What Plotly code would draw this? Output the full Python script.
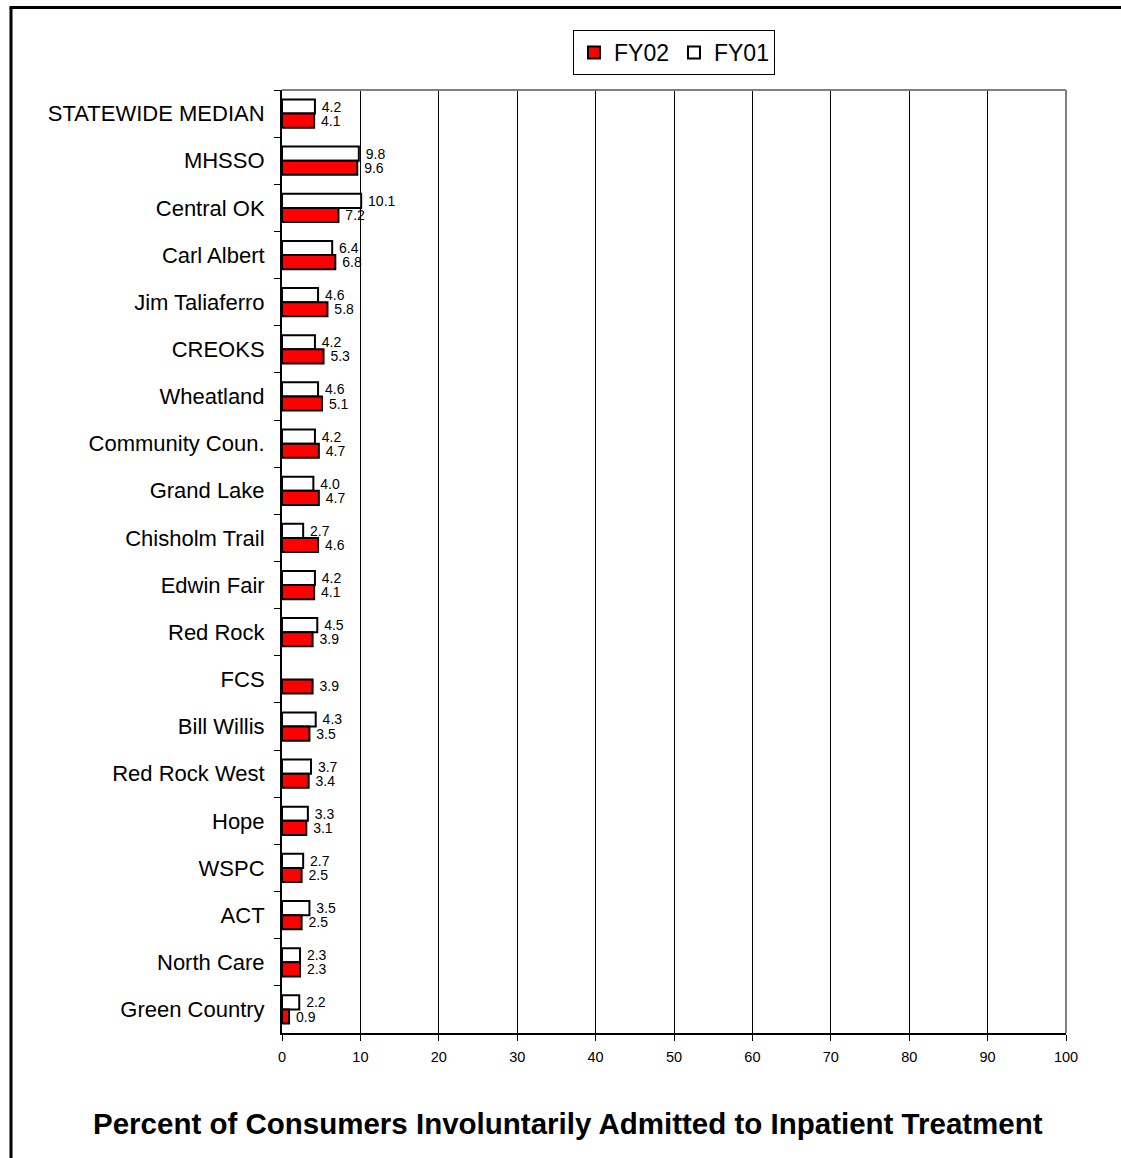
import plotly.graph_objects as go

categories = ["STATEWIDE MEDIAN", "MHSSO", "Central OK", "Carl Albert", "Jim Taliaferro",
              "CREOKS", "Wheatland", "Community Coun.", "Grand Lake", "Chisholm Trail",
              "Edwin Fair", "Red Rock", "FCS", "Bill Willis", "Red Rock West",
              "Hope", "WSPC", "ACT", "North Care", "Green Country"]
fy01 = [4.2, 9.8, 10.1, 6.4, 4.6, 4.2, 4.6, 4.2, 4.0, 2.7,
        4.2, 4.5, None, 4.3, 3.7, 3.3, 2.7, 3.5, 2.3, 2.2]
fy02 = [4.1, 9.6, 7.2, 6.8, 5.8, 5.3, 5.1, 4.7, 4.7, 4.6,
        4.1, 3.9, 3.9, 3.5, 3.4, 3.1, 2.5, 2.5, 2.3, 0.9]
x_ticks = [0, 10, 20, 30, 40, 50, 60, 70, 80, 90, 100]
title_text = "Percent of Consumers Involuntarily Admitted to Inpatient Treatment"

FONT = "Liberation Sans, Arial, sans-serif"
PAD = "\u00a0"

fig = go.Figure()
fig.add_trace(go.Bar(
    name="FY01", y=categories, x=fy01, orientation="h",
    marker=dict(color="white", line=dict(color="black", width=2)),
    text=[PAD + f"{v:.1f}" if v is not None else "" for v in fy01],
    textposition="outside", constraintext="none", cliponaxis=False,
    textfont=dict(family=FONT, size=14, color="black"),
    legendrank=2,
))
fig.add_trace(go.Bar(
    name="FY02", y=categories, x=fy02, orientation="h",
    marker=dict(color="#FF0000", line=dict(color="black", width=2)),
    text=[PAD + f"{v:.1f}" for v in fy02],
    textposition="outside", constraintext="none", cliponaxis=False,
    textfont=dict(family=FONT, size=14, color="black"),
    legendrank=1,
))

W, H = 1121, 1158
L, R, T, B = 282, 1066, 90, 1033

def px_x(p):
    return (p - L) / (R - L)

def px_y(p):
    return (B - p) / (B - T)

fig.update_layout(
    width=W, height=H,
    margin=dict(l=L, r=W - R, t=T, b=H - B),
    paper_bgcolor="white", plot_bgcolor="white",
    barmode="group", bargap=0.4, bargroupgap=0.0,
    font=dict(family=FONT, color="black"),
    showlegend=True,
    legend=dict(orientation="h", x=0.5, xanchor="center", y=px_y(30), yanchor="top",
                bgcolor="white", bordercolor="black", borderwidth=1,
                font=dict(family=FONT, size=23, color="black"),
                itemwidth=30, traceorder="normal", tracegroupgap=0),
    xaxis=dict(range=[0, 100], tickvals=x_ticks, ticktext=[str(v) for v in x_ticks],
               showgrid=True, gridcolor="black", gridwidth=1,
               showline=True, linecolor="black", linewidth=2,
               ticks="outside", ticklen=6, tickcolor="black",
               tickfont=dict(family=FONT, size=14.5, color="black"),
               ticklabelstandoff=4,
               zeroline=False, fixedrange=True),
    yaxis=dict(autorange="reversed", type="category",
               showline=True, linecolor="black", linewidth=2,
               ticks="outside", ticklen=6, tickcolor="black", tickson="boundaries",
               tickfont=dict(family=FONT, size=22, color="black"),
               ticklabelstandoff=11, showgrid=False, fixedrange=True),
    shapes=[
        dict(type="line", xref="paper", yref="paper", x0=0, x1=1, y0=1, y1=1,
             line=dict(color="#808080", width=2)),
        dict(type="line", xref="paper", yref="paper", x0=1, x1=1, y0=0, y1=1,
             line=dict(color="#808080", width=2)),
        dict(type="line", xref="paper", yref="paper", x0=px_x(11), x1=px_x(11),
             y0=px_y(1160), y1=px_y(7.5), line=dict(color="black", width=3)),
        dict(type="line", xref="paper", yref="paper", x0=px_x(9.5), x1=px_x(1125),
             y0=px_y(7.5), y1=px_y(7.5), line=dict(color="black", width=3)),
    ],
    annotations=[
        dict(text=title_text, xref="paper", yref="paper", x=px_x(568), y=px_y(1123),
             xanchor="center", yanchor="middle", showarrow=False,
             font=dict(family=FONT, size=29.5, color="black", weight="bold")),
    ],
)

fig.write_html("out.html")
